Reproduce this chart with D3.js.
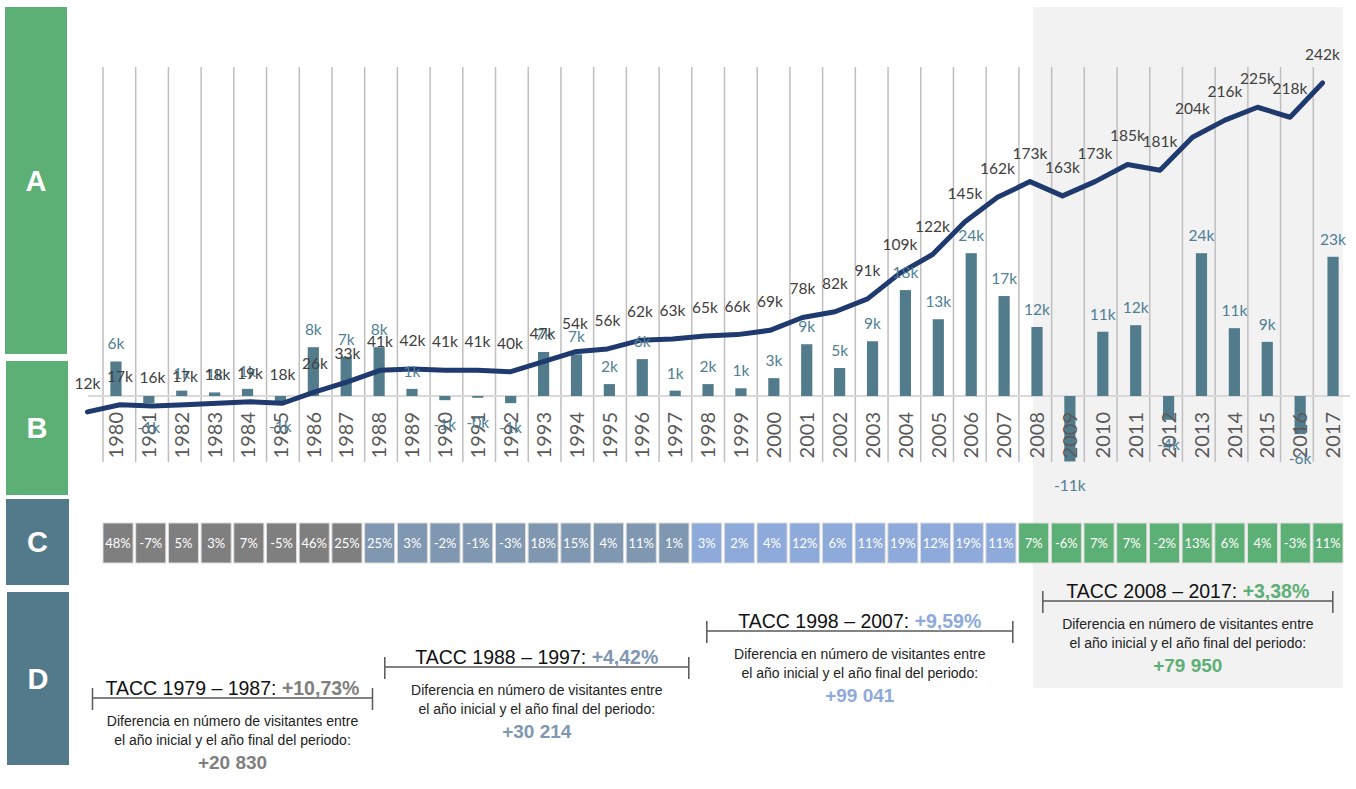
<!DOCTYPE html>
<html>
<head>
<meta charset="utf-8">
<script src="https://cdn.jsdelivr.net/npm/d3@7"></script>
<style>
	body { margin: 0; background: #fff; }
	.lbl { font-family: Lato, "Open Sans", sans-serif; }
	.note { font-family: "Liberation Sans", Arial, sans-serif; }
</style>
</head>
<body>
<svg id="chart" width="1356" height="789"></svg>
<script>
// visitors (thousands) per year, line series
var years = [1979,1980,1981,1982,1983,1984,1985,1986,1987,1988,1989,1990,1991,1992,1993,1994,1995,1996,1997,1998,
	1999,2000,2001,2002,2003,2004,2005,2006,2007,2008,2009,2010,2011,2012,2013,2014,2015,2016,2017];
var visitors = [12,17,16,17,18,19,18,26,33,41,42,41,41,40,47,54,56,62,63,65,
	66,69,78,82,91,109,122,145,162,173,163,173,185,181,204,216,225,218,242];

// yearly change (thousands), bars, 1980 - 2017
var changes = [5.8,-1.2,0.9,0.6,1.2,-1.0,8.2,6.6,8.2,1.2,-0.7,-0.3,-1.2,7.4,7.0,2.0,6.2,0.9,2.0,
	1.3,3.0,8.7,4.7,9.2,17.8,12.9,24.0,16.8,11.6,-11.0,10.8,11.9,-4.0,24.0,11.4,9.1,-6.4,23.4];

// yearly growth rate (%), 1980 - 2017
var growth = [48,-7,5,3,7,-5,46,25,25,3,-2,-1,-3,18,15,4,11,1,3,
	2,4,12,6,11,19,12,19,11,7,-6,7,7,-2,13,6,4,-3,11];

// periods
var periodNames = ["1979 \u2013 1987", "1988 \u2013 1997", "1998 \u2013 2007", "2008 \u2013 2017"];
var periodStart = [1980, 1988, 1998, 2008];
var periodEnd = [1987, 1997, 2007, 2017];
var periodTacc = ["+10,73%", "+4,42%", "+9,59%", "+3,38%"];
var periodDiff = ["+20 830", "+30 214", "+99 041", "+79 950"];
var periodColors = ["#7f7f7f", "#8097b1", "#8eaadb", "#5db075"];

var panelLetters = ["A", "B", "C", "D"];

var svg = d3.select('#chart');
var barYears = years.slice(1);

var lineX = d3.scalePoint().domain(years).range([87.5, 1322.5]);
var lineY = d3.scaleLinear().domain([0, 250]).range([429, 71.5]);
var barX = d3.scaleBand().domain(barYears).range([99.5, 1349.5]).paddingInner(0.66).paddingOuter(0.33);
var barY = d3.scaleLinear().domain([0, 25]).range([396, 247.25]);
var gridX = d3.scaleBand().domain(barYears).range([103, 1346]);
var cellX = d3.scaleBand().domain(barYears).range([103, 1343]).paddingInner(0.08);

function periodOf(year) {
	for (var i = 0; i < periodStart.length; i++) {
		if (year >= periodStart[i] && year <= periodEnd[i]) return i;
	}
	return 0;
}

function fmtK(v) {
	return (v < 0 ? '-' + Math.round(-v) : Math.round(v)) + 'k';
}

// left side panels
var panels = [[5, 7, 62, 347], [6, 361, 62, 134], [6, 499, 63, 86], [7, 592, 62, 173]];
var panelFill = ["#5db075", "#5db075", "#527a8a", "#527a8a"];
var pg = svg.append('g').attr('class', 'panels');
pg.selectAll('rect').data(panels).enter().append('rect')
	.attr('x', function (d) { return d[0]; })
	.attr('y', function (d) { return d[1]; })
	.attr('width', function (d) { return d[2]; })
	.attr('height', function (d) { return d[3]; })
	.attr('fill', function (d, i) { return panelFill[i]; });
pg.selectAll('text').data(panels).enter().append('text')
	.attr('class', 'note')
	.attr('x', function (d) { return d[0] + d[2] / 2; })
	.attr('y', function (d) { return d[1] + d[3] / 2; })
	.attr('dy', '0.36em')
	.attr('text-anchor', 'middle')
	.attr('font-size', '29px')
	.attr('font-weight', 'bold')
	.attr('fill', '#fff')
	.text(function (d, i) { return panelLetters[i]; });

// shaded last period
svg.append('rect')
	.attr('x', 1033).attr('y', 7)
	.attr('width', 1343 - 1033).attr('height', 681)
	.attr('fill', '#f2f2f2');

// vertical gridlines
svg.append('g').selectAll('line').data(barYears).enter().append('line')
	.attr('x1', function (d) { return gridX(d); })
	.attr('x2', function (d) { return gridX(d); })
	.attr('y1', 67).attr('y2', 462)
	.attr('stroke', '#bfbfbf').attr('stroke-width', 1.5);

// zero line
svg.append('line')
	.attr('x1', 88).attr('x2', 1350)
	.attr('y1', barY(0)).attr('y2', barY(0))
	.attr('stroke', '#d9d9d9').attr('stroke-width', 2);

// bars
svg.append('g').selectAll('rect').data(changes).enter().append('rect')
	.attr('x', function (d, i) { return barX(barYears[i]); })
	.attr('width', barX.bandwidth())
	.attr('y', function (d) { return Math.min(barY(d), barY(0)); })
	.attr('height', function (d) { return Math.abs(barY(d) - barY(0)); })
	.attr('fill', '#527b8b');

// line
var line = d3.line()
	.x(function (d, i) { return lineX(years[i]); })
	.y(function (d) { return lineY(d); });
svg.append('path').datum(visitors)
	.attr('d', line)
	.attr('fill', 'none')
	.attr('stroke', '#1f3a6e')
	.attr('stroke-width', 5)
	.attr('stroke-linejoin', 'round')
	.attr('stroke-linecap', 'round');

// year labels
svg.append('g').selectAll('text').data(barYears).enter().append('text')
	.attr('class', 'lbl')
	.attr('transform', function (d) { return 'translate(' + (barX(d) + barX.bandwidth() / 2) + ',412) rotate(-90)'; })
	.attr('dy', '0.36em')
	.attr('text-anchor', 'end')
	.attr('font-size', '20px')
	.attr('fill', '#595959')
	.text(function (d) { return d; });

// bar labels
svg.append('g').selectAll('text').data(changes).enter().append('text')
	.attr('class', 'lbl')
	.attr('x', function (d, i) { return barX(barYears[i]) + barX.bandwidth() / 2; })
	.attr('y', function (d) { return d < 0 ? barY(d) + 30 : barY(d) - 12; })
	.attr('text-anchor', 'middle')
	.attr('font-size', '15.5px')
	.attr('fill', '#4f7f95')
	.text(fmtK);

// line labels
svg.append('g').selectAll('text').data(visitors).enter().append('text')
	.attr('class', 'lbl')
	.attr('x', function (d, i) { return lineX(years[i]); })
	.attr('y', function (d) { return lineY(d) - 23; })
	.attr('text-anchor', 'middle')
	.attr('font-size', '15.5px')
	.attr('fill', '#404040')
	.text(function (d) { return d + 'k'; });

// growth cells
var cells = svg.append('g').selectAll('g').data(growth).enter().append('g');
cells.append('rect')
	.attr('x', function (d, i) { return cellX(barYears[i]); })
	.attr('y', 523)
	.attr('width', cellX.bandwidth())
	.attr('height', 40)
	.attr('fill', function (d, i) { return periodColors[periodOf(barYears[i])]; })
	.attr('stroke', '#dcdcdc').attr('stroke-width', 1);
cells.append('text')
	.attr('class', 'lbl')
	.attr('x', function (d, i) { return cellX(barYears[i]) + cellX.bandwidth() / 2; })
	.attr('y', 543)
	.attr('dy', '0.35em')
	.attr('text-anchor', 'middle')
	.attr('font-size', '13px')
	.attr('fill', '#fff')
	.text(function (d) { return d + '%'; });

// period notes
var noteY = [698, 667, 631, 601];
var noteHalf = [140, 152, 153, 145];
var noteShift = [0, 10, 6, 7];

periodNames.forEach(function (name, i) {
	var cx = (cellX(periodStart[i]) + cellX(periodEnd[i]) + cellX.bandwidth()) / 2 + noteShift[i];
	var ly = noteY[i];
	var g = svg.append('g').attr('class', 'note');

	g.append('path')
		.attr('d', 'M' + (cx - noteHalf[i]) + ',' + (ly - 10) + 'V' + (ly + 12)
			+ 'M' + (cx - noteHalf[i]) + ',' + ly + 'H' + (cx + noteHalf[i])
			+ 'M' + (cx + noteHalf[i]) + ',' + (ly - 10) + 'V' + (ly + 12))
		.attr('fill', 'none').attr('stroke', '#595959').attr('stroke-width', 1.5);

	var t = g.append('text')
		.attr('x', cx).attr('y', ly - 3)
		.attr('text-anchor', 'middle')
		.attr('font-size', '19.5px')
		.attr('fill', '#111');
	t.append('tspan').text('TACC ' + name + ': ');
	t.append('tspan').attr('font-weight', 'bold').attr('fill', periodColors[i]).text(periodTacc[i]);

	g.append('text')
		.attr('x', cx).attr('y', ly + 28)
		.attr('text-anchor', 'middle').attr('font-size', '14px').attr('fill', '#222')
		.text('Diferencia en número de visitantes entre');
	g.append('text')
		.attr('x', cx).attr('y', ly + 47)
		.attr('text-anchor', 'middle').attr('font-size', '14px').attr('fill', '#222')
		.text('el año inicial y el año final del periodo:');
	g.append('text')
		.attr('x', cx).attr('y', ly + 71)
		.attr('text-anchor', 'middle').attr('font-size', '19px').attr('font-weight', 'bold')
		.attr('fill', periodColors[i])
		.text(periodDiff[i]);
});
</script>
</body>
</html>
